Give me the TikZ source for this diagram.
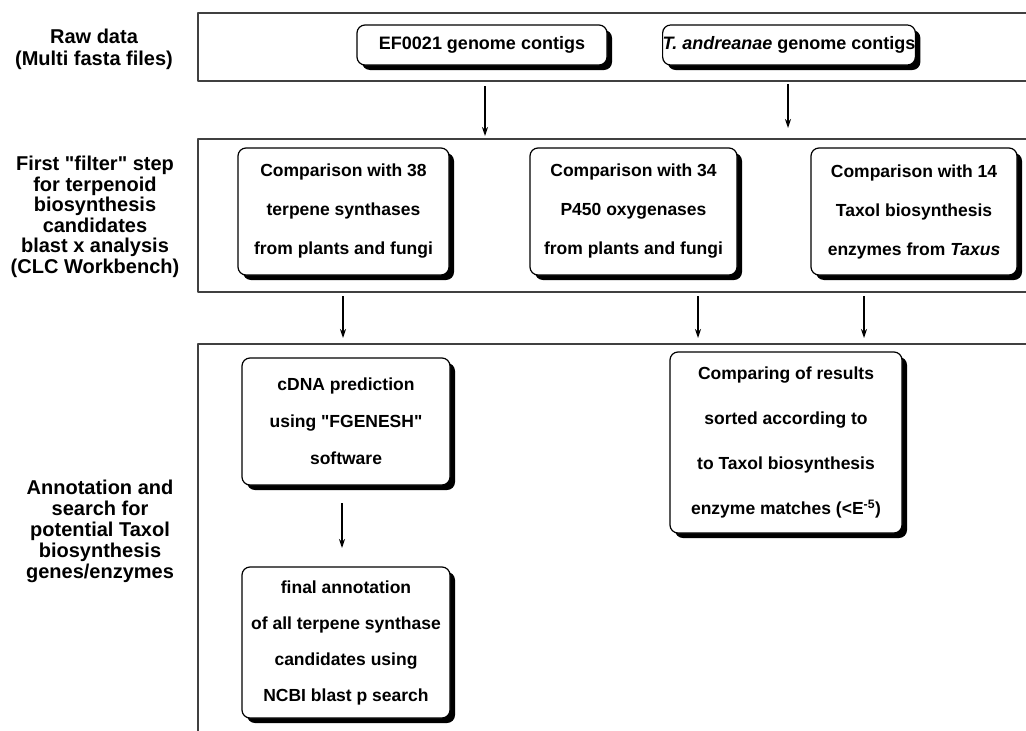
\documentclass[tikz,border=0pt]{standalone}
\usepackage{fontspec}
\setmainfont{Liberation Sans}
\usetikzlibrary{arrows.meta,shadows}

\begin{document}
\begin{tikzpicture}[x=1pt,y=-1pt,line join=round,
		band/.style={draw=black!75,line width=1.4pt},
		stepbox/.style={draw,line width=1.2pt,fill=white,rounded corners=8pt,
			drop shadow={shadow xshift=5pt,shadow yshift=-5pt,fill=black,opacity=1},
			align=center,inner sep=0pt,font=\bfseries\fontsize{17.5}{39}\selectfont},
		lbl/.style={align=center,font=\bfseries\fontsize{20}{20.5}\selectfont},
		flow/.style={-{Stealth[length=9pt,width=6pt]},line width=1.4pt}]
		\useasboundingbox (0,0) rectangle (1026,731);
		\draw[band] (1030,13) -| (198,81) -- (1030,81);
		\draw[band] (1030,139) -| (198,292) -- (1030,292);
		\draw[band] (1030,344) -| (198,740);
		\node[lbl,font=\bfseries\fontsize{20}{22}\selectfont] (lblRaw) at (94,49) {Raw data\\(Multi fasta files)};
		\node[lbl] (lblFilter) at (95,217) {First \textquotedbl filter\textquotedbl{} step\\for terpenoid\\biosynthesis\\candidates\\blast x analysis\\(CLC Workbench)};
		\node[lbl,font=\bfseries\fontsize{20}{21}\selectfont] (lblAnnot) at (100,531.5) {Annotation and\\search for\\potential Taxol\\biosynthesis\\genes/enzymes};
		\node[stepbox,minimum width=250pt,minimum height=40pt,font=\bfseries\fontsize{18}{20}\selectfont] (rawEF) at (482,45) {EF0021 genome contigs};
		\node[stepbox,minimum width=250pt,minimum height=40pt,font=\bfseries\fontsize{18}{20}\selectfont] (rawTA) at (789,45) {\textit{T. andreanae} genome contigs};
		\node[stepbox,minimum width=211pt,minimum height=127pt] (cmpTps) at (343.5,211.5) {Comparison with 38\\terpene synthases\\from plants and fungi};
		\node[stepbox,minimum width=207pt,minimum height=127pt] (cmpP450) at (633.5,211.5) {Comparison with 34\\P450 oxygenases\\from plants and fungi};
		\node[stepbox,minimum width=206pt,minimum height=127pt] (cmpTaxol) at (914,211.5) {Comparison with 14\\Taxol biosynthesis\\enzymes from \textit{Taxus}};
		\node[stepbox,minimum width=208pt,minimum height=127pt,font=\bfseries\fontsize{17.5}{37}\selectfont] (cdna) at (346,421.5) {cDNA prediction\\using \textquotedbl FGENESH\textquotedbl\\software};
		\node[stepbox,minimum width=208pt,minimum height=151pt,font=\bfseries\fontsize{17.5}{36}\selectfont] (annot) at (346,642.5) {final annotation\\of all terpene synthase\\candidates using\\NCBI blast p search};
		\node[stepbox,minimum width=232pt,minimum height=181pt,font=\bfseries\fontsize{17.5}{45}\selectfont] (sorted) at (786,442.5) {Comparing of results\\sorted according to\\to Taxol biosynthesis\\enzyme matches (<E\textsuperscript{-5})};
		\path
		(485,86) coordinate (efOut) (485,136) coordinate (efIn)
		(788,84) coordinate (taOut) (788,128) coordinate (taIn)
		(343,296) coordinate (tpsOut) (343,338) coordinate (tpsIn)
		(698,296) coordinate (p450Out) (698,338) coordinate (p450In)
		(864,296) coordinate (taxOut) (864,338) coordinate (taxIn)
		(342,503) coordinate (cdnaOut) (342,548) coordinate (annotIn);
		\foreach \s/\e in {efOut/efIn,taOut/taIn,tpsOut/tpsIn,p450Out/p450In,taxOut/taxIn,cdnaOut/annotIn} \draw[flow] (\s) -- (\e);
	\end{tikzpicture}
\end{document}
